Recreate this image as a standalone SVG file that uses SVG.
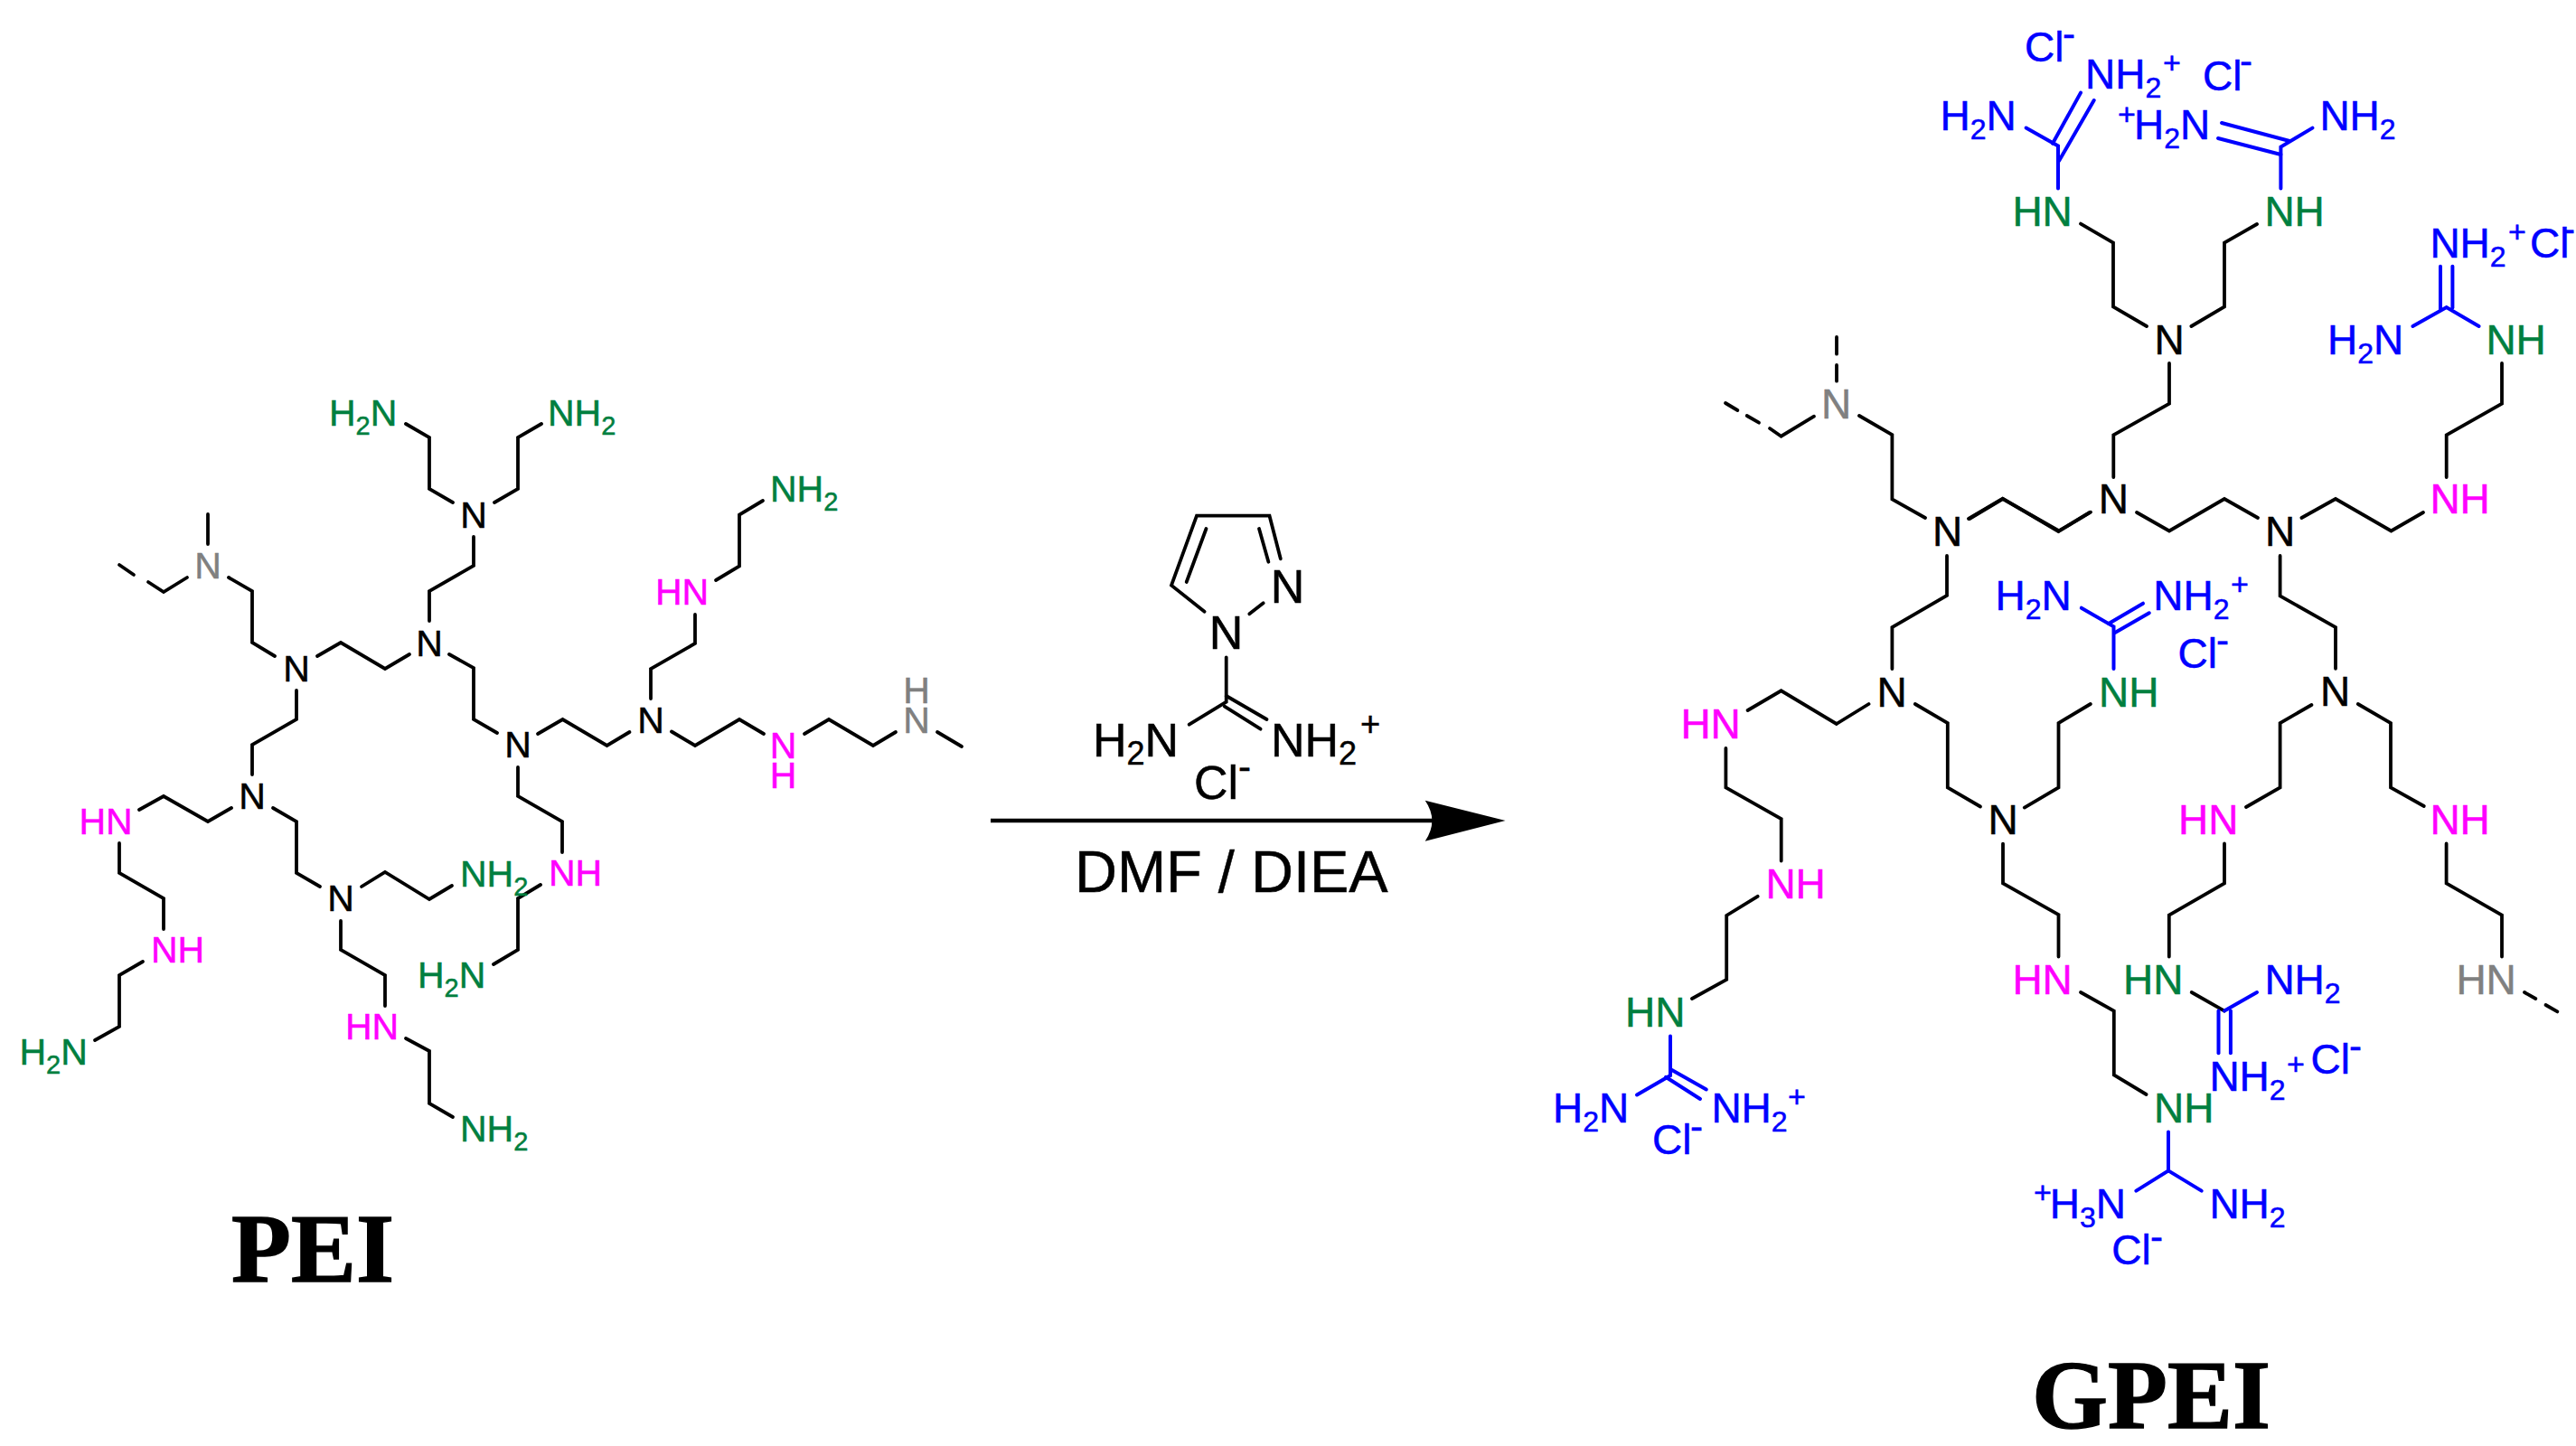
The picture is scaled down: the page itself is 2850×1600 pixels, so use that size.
<svg xmlns="http://www.w3.org/2000/svg" width="2850" height="1600" viewBox="0 0 2850 1600">
<style>
text{font-family:"Liberation Sans",Arial,sans-serif;fill:#000;stroke:#000;stroke-width:.5}
.a{font-size:41px}.b{font-size:46px}.c{font-size:52px}
.a .s{font-size:29px}.b .s{font-size:32px}.c .s{font-size:36px}
.b .u{font-size:34px}.c .u{font-size:38px}
.h{font-size:42px}
.g{fill:#007f3f;stroke:#007f3f}.m{fill:#f0f;stroke:#f0f}.y{fill:#808080;stroke:#808080}.l{fill:#00f;stroke:#00f}
.mid{text-anchor:middle}
.d{font-size:65px}
.t{font-family:"Liberation Serif","Times New Roman",serif;font-weight:700;font-size:108px;fill:#000;stroke-width:1.4}
#connectors polyline,#connectors line{fill:none;stroke:#000;stroke-width:3.8;stroke-linecap:round;stroke-linejoin:miter}
#connectors .bl polyline,#connectors .bl line{stroke:#00f;stroke-width:4}
</style>
<g id="connectors">
<g id="pei-bonds">
<polyline points="449,469 475,484 475,541 501,556"/>
<polyline points="599,469 573,484 573,541 547,556"/>
<polyline points="524,594 524,626 475,654 475,687"/>
<polyline points="453,724 426,740 377,711 351,726"/>
<polyline points="304,726 279,711 279,654 253,639"/>
<polyline points="207,639 181,655 164,644"/>
<line x1="148" y1="636" x2="132" y2="625"/>
<line x1="230" y1="602" x2="230" y2="569"/>
<polyline points="328,764 328,796 279,824 279,857"/>
<polyline points="256,894 230,909 181,881 154,896"/>
<polyline points="302,894 328,909 328,966 354,981"/>
<polyline points="400,981 426,965 475,995 500,980"/>
<polyline points="377,1019 377,1051 426,1079 426,1113"/>
<polyline points="449,1149 475,1163 475,1221 501,1236"/>
<polyline points="132,933 132,966 181,994 181,1028"/>
<polyline points="158,1064 132,1079 132,1136 105,1151"/>
<polyline points="497,724 524,739 524,796 550,811"/>
<polyline points="573,849 573,881 622,909 622,943"/>
<polyline points="598,979 573,994 573,1051 546,1067"/>
<polyline points="595,812 622.5,796 671.5,825 696.5,810"/>
<polyline points="720,773 720,740 769,712 769,680"/>
<polyline points="792,642 818,626.5 818,569.5 844,554"/>
<polyline points="743,809.5 769,825 818,796 845,812"/>
<polyline points="890,812 917,796 966,825 991,810"/>
<line x1="1037" y1="810" x2="1064" y2="826"/>
</g>
<g id="reagent-bonds">
<polyline points="1332.6,676.7 1296,647.7 1324,570.7 1404.5,570.7 1416.8,618.3"/>
<line x1="1334.5" y1="585" x2="1312.7" y2="644"/>
<line x1="1393" y1="585" x2="1403.4" y2="621.7"/>
<line x1="1382.3" y1="679.3" x2="1397.7" y2="667.3"/>
<polyline points="1356.7,727.3 1356.7,776.7 1315.7,801.7"/>
<line x1="1356.7" y1="770" x2="1401.5" y2="796"/>
<line x1="1354.8" y1="781.7" x2="1394.6" y2="806.7"/>
<line x1="1096" y1="908" x2="1590" y2="908" style="stroke-width:4.4;stroke-linecap:butt"/>
<path d="M1665.5,908 L1576.7,885.7 Q1592,908 1576.7,930.7 Z" fill="#000"/>
</g>
<g id="gpei-bonds">
<polyline points="2302,247.6 2338,268.7 2338,339.5 2375,361"/>
<polyline points="2497,248 2461,268.7 2461,339.5 2424.4,361"/>
<polyline points="2768,402 2768,446.6 2706.7,481.4 2706.7,528"/>
<polyline points="2400,402 2400,446.6 2338.3,481.4 2338.3,528"/>
<polyline points="2179,574 2215.8,552 2278,587.5 2312,567"/>
<polyline points="2364,567 2400,587.5 2461,552 2498,573"/>
<polyline points="2546.4,573 2584,552 2645.5,587.5 2681,567"/>
<line x1="2032" y1="373" x2="2032" y2="391.7"/>
<line x1="2032" y1="404" x2="2032" y2="421.7"/>
<polyline points="2007,460.7 1970.6,482.7 1958,474"/>
<line x1="1946" y1="467.7" x2="1932.7" y2="460"/>
<line x1="1922.4" y1="454" x2="1909" y2="446"/>
<polyline points="2057,460 2093.4,481 2093.4,552.3 2130,573"/>
<polyline points="2178,574 2215.7,551.7 2277.3,588 2313,566.7"/>
<polyline points="2154,615 2154,659 2093.4,694 2093.4,740"/>
<polyline points="2067.5,779 2031.8,801 1970.6,764.3 1933.6,786"/>
<polyline points="2118.8,779 2154.8,800 2154.8,871.4 2191,892.5"/>
<polyline points="2239.8,893.6 2277.5,871.4 2277.5,800 2312.8,779"/>
<polyline points="1909.4,827.9 1909.4,871.4 1970.7,906 1970.7,952.5"/>
<polyline points="1944.6,991.8 1910.2,1013 1910.2,1084 1872,1105"/>
<polyline points="2216,933.6 2216,977.5 2277.5,1012 2277.5,1058.6"/>
<polyline points="2302,1098 2338.8,1118.6 2338.8,1189.4 2374.6,1211"/>
<line x1="2424.7" y1="1098" x2="2461" y2="1118.6"/>
<polyline points="2522.6,615 2522.6,659.4 2584,694 2584,739.8"/>
<polyline points="2557.4,780 2522.6,800 2522.6,871.4 2485,893"/>
<polyline points="2461,933.4 2461,977.4 2399.8,1012.6 2399.8,1058.6"/>
<polyline points="2608.8,779 2645,800 2645,871.4 2681.8,892"/>
<polyline points="2706.6,933.4 2706.6,977.4 2768,1012.6 2768,1058.6"/>
<line x1="2793" y1="1098" x2="2805.3" y2="1105"/>
<line x1="2816.5" y1="1112" x2="2829.4" y2="1119.4"/>
<g class="bl">
<polyline points="2241.6,141.6 2277,161.5 2277,208.6"/>
<line x1="2302" y1="102.6" x2="2271" y2="158.8"/>
<line x1="2316.7" y1="111" x2="2278" y2="178"/>
<line x1="2458" y1="136" x2="2533" y2="156"/>
<line x1="2454" y1="153" x2="2523.4" y2="171"/>
<polyline points="2558.4,141.6 2523.4,162.6 2523.4,208.6"/>
<line x1="2700" y1="294.7" x2="2700" y2="342.5"/>
<line x1="2713.4" y1="294.7" x2="2713.4" y2="340.6"/>
<polyline points="2669.4,361 2706.7,340 2742.6,361"/>
<polyline points="2302.8,672.7 2338.5,693.3 2338.5,740"/>
<line x1="2371" y1="667.7" x2="2333" y2="690"/>
<line x1="2377.8" y1="678.3" x2="2340" y2="700"/>
<polyline points="1848,1146.4 1848,1190 1811,1211.4"/>
<line x1="1848" y1="1182.9" x2="1887.8" y2="1205.4"/>
<line x1="1843" y1="1191.8" x2="1881" y2="1216"/>
<line x1="2461" y1="1118.6" x2="2497" y2="1098"/>
<line x1="2454.5" y1="1118.6" x2="2454.5" y2="1165.3"/>
<line x1="2467.9" y1="1118.6" x2="2467.9" y2="1165.3"/>
<polyline points="2399,1252.6 2399,1295.4 2363.4,1317.6"/>
<line x1="2399" y1="1295.4" x2="2435.7" y2="1317.6"/>
</g>
</g>
</g>
<g id="pei">
<g id="p-h2n-1"><text class="a g" x="364" y="471">H<tspan class="s" dy="10">2</tspan><tspan dy="-10">N</tspan></text></g>
<g id="p-nh2-1"><text class="a g" x="606" y="471">NH<tspan class="s" dy="10">2</tspan></text></g>
<g id="p-n-1"><text class="a mid" x="524" y="584">N</text></g>
<g id="p-n-2"><text class="a mid" x="475" y="726">N</text></g>
<g id="p-n-3"><text class="a mid" x="328" y="754">N</text></g>
<g id="p-n-4"><text class="a mid y" x="230" y="640">N</text></g>
<g id="p-n-5"><text class="a mid" x="279" y="895">N</text></g>
<g id="p-n-6"><text class="a mid" x="573" y="838">N</text></g>
<g id="p-n-7"><text class="a mid" x="377" y="1008">N</text></g>
<g id="p-n-8"><text class="a mid" x="720" y="811">N</text></g>
<g id="p-hn-1"><text class="a m" x="87.5" y="923">HN</text></g>
<g id="p-nh-1"><text class="a m" x="167" y="1065">NH</text></g>
<g id="p-h2n-2"><text class="a g" x="21.5" y="1178">H<tspan class="s" dy="10">2</tspan><tspan dy="-10">N</tspan></text></g>
<g id="p-nh2-2"><text class="a g" x="509" y="981">NH<tspan class="s" dy="10">2</tspan></text></g>
<g id="p-hn-2"><text class="a m" x="382" y="1150">HN</text></g>
<g id="p-nh2-3"><text class="a g" x="509" y="1263">NH<tspan class="s" dy="10">2</tspan></text></g>
<g id="p-nh-2"><text class="a m" x="607" y="980">NH</text></g>
<g id="p-h2n-3"><text class="a g" x="462" y="1093">H<tspan class="s" dy="10">2</tspan><tspan dy="-10">N</tspan></text></g>
<g id="p-hn-3"><text class="a m" x="725" y="669">HN</text></g>
<g id="p-nh2-4"><text class="a g" x="852" y="555">NH<tspan class="s" dy="10">2</tspan></text></g>
<g id="p-nh-3"><text class="a m mid"><tspan x="866.5" y="839">N</tspan><tspan x="866.5" y="872">H</tspan></text></g>
<g id="p-nh-4"><text class="a y mid"><tspan x="1014" y="778">H</tspan><tspan x="1014" y="811">N</tspan></text></g>
<g id="p-label"><text class="t" x="256" y="1418">PEI</text></g>
</g>
<g id="reagent">
<g id="r-n-1"><text class="c mid" x="1424.5" y="667">N</text></g>
<g id="r-n-2"><text class="c mid" x="1356.5" y="717.7">N</text></g>
<g id="r-h2n"><text class="c" x="1209" y="836.7">H<tspan class="s" dy="9">2</tspan><tspan dy="-9">N</tspan></text></g>
<g id="r-nh2"><text class="c" x="1406" y="836.7">NH<tspan class="s" dy="9">2</tspan><tspan class="u" x="1505" y="814">+</tspan></text></g>
<g id="r-cl"><text class="c" x="1321" y="884">Cl<tspan class="h" x="1370" y="862.7">-</tspan></text></g>
<g id="r-cond"><text class="d" x="1189" y="986.7">DMF / DIEA</text></g>
</g>
<g id="gpei">
<g id="g1-h2n"><text class="b l" x="2146.4" y="143.5">H<tspan class="s" dy="10">2</tspan><tspan dy="-10">N</tspan></text></g>
<g id="g1-nh2"><text class="b l" x="2307" y="97.6">NH<tspan class="s" dy="10">2</tspan><tspan class="u" x="2393" y="81">+</tspan></text></g>
<g id="g1-cl"><text class="b l" x="2240" y="68">Cl<tspan class="h" x="2282" y="51.7">-</tspan></text></g>
<g id="g2-h2n"><text class="b l"><tspan class="u" x="2343" y="138">+</tspan><tspan x="2361" y="154">H</tspan><tspan class="s" dy="10">2</tspan><tspan dy="-10">N</tspan></text></g>
<g id="g2-nh2"><text class="b l" x="2566.4" y="143.5">NH<tspan class="s" dy="10">2</tspan></text></g>
<g id="g2-cl"><text class="b l" x="2437" y="99.5">Cl<tspan class="h" x="2478" y="82.4">-</tspan></text></g>
<g id="g-hn-1"><text class="b g" x="2226.4" y="249.5">HN</text></g>
<g id="g-nh-1"><text class="b g" x="2505.4" y="249.5">NH</text></g>
<g id="g-n-1"><text class="b mid" x="2400" y="391.5">N</text></g>
<g id="g3-nh2"><text class="b l" x="2688.4" y="285">NH<tspan class="s" dy="10">2</tspan><tspan class="u" x="2775" y="268">+</tspan></text></g>
<g id="g3-cl"><text class="b l" x="2799" y="285">Cl<tspan class="h" x="2835" y="267.7">-</tspan></text></g>
<g id="g3-h2n"><text class="b l" x="2575" y="391.5">H<tspan class="s" dy="10">2</tspan><tspan dy="-10">N</tspan></text></g>
<g id="g-nh-2"><text class="b g" x="2750.4" y="391.5">NH</text></g>
<g id="g-nh-3"><text class="b m" x="2688.4" y="568">NH</text></g>
<g id="g-n-2"><text class="b mid" x="2338.3" y="568">N</text></g>
<g id="g-n-3"><text class="b mid" x="2522.5" y="604">N</text></g>
<g id="g-n-4"><text class="b mid" x="2154.5" y="604">N</text></g>
<g id="g-n-5"><text class="b mid" x="2093" y="781.7">N</text></g>
<g id="g-n-6"><text class="b mid y" x="2031.5" y="462.7">N</text></g>
<g id="g4-h2n"><text class="b l" x="2207.4" y="675">H<tspan class="s" dy="10">2</tspan><tspan dy="-10">N</tspan></text></g>
<g id="g4-nh2"><text class="b l" x="2382.2" y="675">NH<tspan class="s" dy="10">2</tspan><tspan class="u" x="2468" y="658">+</tspan></text></g>
<g id="g4-cl"><text class="b l" x="2409.5" y="739">Cl<tspan class="h" x="2452" y="722.7">-</tspan></text></g>
<g id="g-nh-4"><text class="b g" x="2322" y="781.7">NH</text></g>
<g id="g-n-7"><text class="b mid" x="2583.5" y="781">N</text></g>
<g id="g-hn-2"><text class="b m" x="2410" y="922.7">HN</text></g>
<g id="g-nh-5"><text class="b m" x="2688.4" y="922.7">NH</text></g>
<g id="g-hn-3"><text class="b y" x="2717.4" y="1100">HN</text></g>
<g id="g-n-8"><text class="b mid" x="2216" y="923">N</text></g>
<g id="g-hn-4"><text class="b m" x="2226.4" y="1100">HN</text></g>
<g id="g-hn-5"><text class="b g" x="2349" y="1100">HN</text></g>
<g id="g5-nh2"><text class="b l" x="2505.4" y="1100">NH<tspan class="s" dy="10">2</tspan></text></g>
<g id="g-hn-6"><text class="b m" x="1859.4" y="816.8">HN</text></g>
<g id="g-nh-6"><text class="b m" x="1953.4" y="993.6">NH</text></g>
<g id="g-hn-7"><text class="b g" x="1798" y="1135.7">HN</text></g>
<g id="g6-h2n"><text class="b l" x="1718" y="1241.8">H<tspan class="s" dy="10">2</tspan><tspan dy="-10">N</tspan></text></g>
<g id="g6-nh2"><text class="b l" x="1893.4" y="1241.8">NH<tspan class="s" dy="10">2</tspan><tspan class="u" x="1978" y="1225">+</tspan></text></g>
<g id="g6-cl"><text class="b l" x="1828" y="1276.8">Cl<tspan class="h" x="1870" y="1261">-</tspan></text></g>
<g id="g-nh-7"><text class="b g" x="2383" y="1241.9">NH</text></g>
<g id="g5-nh2p"><text class="b l" x="2444.4" y="1206.7">NH<tspan class="s" dy="10">2</tspan><tspan class="u" x="2530" y="1189">+</tspan></text></g>
<g id="g5-cl"><text class="b l" x="2556.5" y="1187.5">Cl<tspan class="h" x="2599" y="1172.3">-</tspan></text></g>
<g id="g7-h3n"><text class="b l"><tspan class="u" x="2250" y="1331">+</tspan><tspan x="2267.8" y="1348">H</tspan><tspan class="s" dy="10">3</tspan><tspan dy="-10">N</tspan></text></g>
<g id="g7-nh2"><text class="b l" x="2444.4" y="1348">NH<tspan class="s" dy="10">2</tspan></text></g>
<g id="g7-cl"><text class="b l" x="2336.3" y="1398.8">Cl<tspan class="h" x="2379" y="1382.7">-</tspan></text></g>
<g id="g-label"><text class="t" x="2248" y="1580">GPEI</text></g>
</g>
</svg>
